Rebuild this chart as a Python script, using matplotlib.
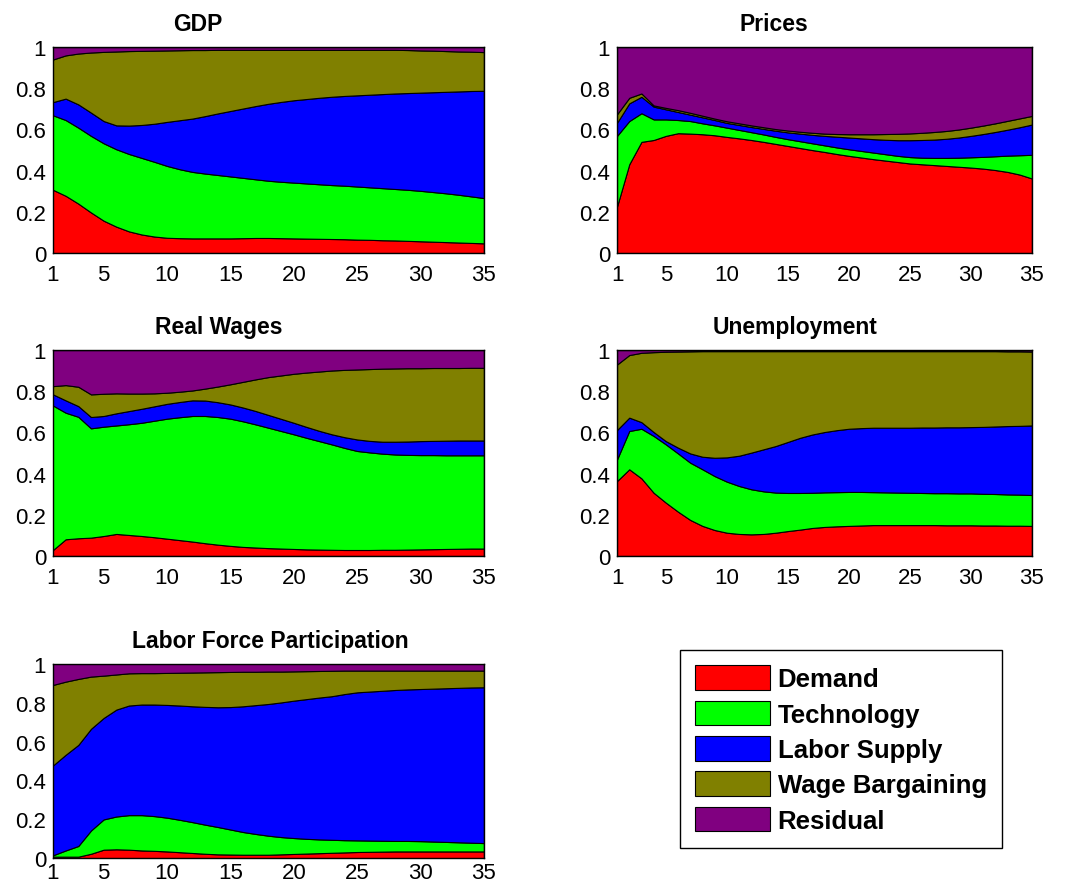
import numpy as np
import matplotlib
matplotlib.use("Agg")
import matplotlib.pyplot as plt
from matplotlib.patches import Patch

plt.rcParams['font.family'] = ['Liberation Sans', 'DejaVu Sans']

t = np.arange(1, 36)
labels = ['Demand', 'Technology', 'Labor Supply', 'Wage Bargaining', 'Residual']
colors = ['#ff0000', '#00ff00', '#0000ff', '#808000', '#800080']

# cumulative upper edge of each layer, residual fills to 1
gdp_demand = [0.307, 0.278, 0.240, 0.197, 0.157, 0.128, 0.105, 0.090, 0.080, 0.074,
              0.072, 0.071, 0.071, 0.071, 0.071, 0.072, 0.073, 0.073, 0.072, 0.071,
              0.070, 0.069, 0.068, 0.067, 0.065, 0.064, 0.062, 0.061, 0.059, 0.057,
              0.055, 0.053, 0.051, 0.049, 0.047]
gdp_tech = [0.669, 0.646, 0.609, 0.569, 0.533, 0.504, 0.481, 0.462, 0.443, 0.423,
            0.407, 0.394, 0.386, 0.379, 0.372, 0.365, 0.358, 0.351, 0.346, 0.342,
            0.338, 0.334, 0.330, 0.327, 0.323, 0.319, 0.315, 0.311, 0.307, 0.302,
            0.296, 0.290, 0.283, 0.275, 0.267]
gdp_labor = [0.733, 0.750, 0.722, 0.682, 0.641, 0.620, 0.619, 0.622, 0.628, 0.637,
             0.645, 0.653, 0.665, 0.678, 0.690, 0.702, 0.714, 0.725, 0.734, 0.742,
             0.748, 0.754, 0.759, 0.763, 0.766, 0.769, 0.772, 0.775, 0.777, 0.779,
             0.781, 0.783, 0.785, 0.787, 0.788]
gdp_wage = [0.940, 0.960, 0.969, 0.974, 0.977, 0.979, 0.981, 0.982, 0.983, 0.984,
            0.985, 0.986, 0.986, 0.987, 0.987, 0.987, 0.987, 0.987, 0.987, 0.987,
            0.987, 0.987, 0.987, 0.987, 0.987, 0.987, 0.987, 0.987, 0.986, 0.984,
            0.983, 0.981, 0.979, 0.978, 0.976]

prices_demand = [0.226, 0.431, 0.540, 0.549, 0.569, 0.582, 0.580, 0.577, 0.572, 0.564,
                 0.557, 0.549, 0.540, 0.530, 0.520, 0.510, 0.500, 0.491, 0.481, 0.472,
                 0.464, 0.456, 0.449, 0.442, 0.435, 0.431, 0.427, 0.423, 0.419, 0.415,
                 0.410, 0.403, 0.394, 0.381, 0.362]
prices_tech = [0.569, 0.641, 0.679, 0.649, 0.649, 0.646, 0.641, 0.630, 0.620, 0.609,
               0.598, 0.587, 0.576, 0.564, 0.553, 0.543, 0.533, 0.523, 0.513, 0.504,
               0.496, 0.488, 0.480, 0.472, 0.466, 0.463, 0.462, 0.462, 0.463, 0.465,
               0.467, 0.470, 0.473, 0.475, 0.477]
prices_labor = [0.633, 0.727, 0.759, 0.711, 0.698, 0.685, 0.672, 0.659, 0.646, 0.632,
                0.622, 0.612, 0.603, 0.594, 0.586, 0.580, 0.574, 0.569, 0.565, 0.561,
                0.557, 0.553, 0.550, 0.548, 0.548, 0.549, 0.551, 0.555, 0.561, 0.569,
                0.578, 0.588, 0.599, 0.611, 0.624]
prices_wage = [0.674, 0.754, 0.775, 0.717, 0.705, 0.694, 0.681, 0.667, 0.653, 0.640,
               0.630, 0.620, 0.611, 0.602, 0.595, 0.589, 0.584, 0.580, 0.578, 0.577,
               0.577, 0.577, 0.578, 0.579, 0.581, 0.584, 0.588, 0.593, 0.600, 0.609,
               0.619, 0.630, 0.642, 0.654, 0.666]

wages_demand = [0.029, 0.081, 0.086, 0.089, 0.097, 0.107, 0.102, 0.097, 0.091, 0.084,
                0.077, 0.070, 0.062, 0.055, 0.049, 0.044, 0.041, 0.038, 0.036, 0.034,
                0.032, 0.031, 0.030, 0.029, 0.029, 0.029, 0.030, 0.030, 0.031, 0.032,
                0.033, 0.034, 0.035, 0.036, 0.036]
wages_tech = [0.731, 0.696, 0.676, 0.620, 0.628, 0.634, 0.640, 0.647, 0.657, 0.667,
              0.674, 0.680, 0.680, 0.675, 0.667, 0.654, 0.639, 0.623, 0.607, 0.591,
              0.574, 0.558, 0.542, 0.525, 0.510, 0.503, 0.497, 0.493, 0.491, 0.490,
              0.490, 0.489, 0.489, 0.489, 0.489]
wages_labor = [0.785, 0.756, 0.728, 0.675, 0.680, 0.693, 0.704, 0.715, 0.727, 0.739,
               0.748, 0.756, 0.755, 0.747, 0.736, 0.721, 0.704, 0.685, 0.666, 0.647,
               0.627, 0.608, 0.591, 0.577, 0.566, 0.559, 0.555, 0.555, 0.556, 0.558,
               0.559, 0.560, 0.561, 0.561, 0.561]
wages_wage = [0.825, 0.830, 0.822, 0.785, 0.788, 0.790, 0.789, 0.789, 0.790, 0.793,
              0.798, 0.804, 0.813, 0.823, 0.834, 0.846, 0.858, 0.869, 0.877, 0.885,
              0.891, 0.896, 0.901, 0.904, 0.906, 0.908, 0.910, 0.911, 0.912, 0.912,
              0.913, 0.913, 0.913, 0.914, 0.914]

unemp_demand = [0.364, 0.421, 0.377, 0.307, 0.259, 0.215, 0.175, 0.146, 0.126, 0.113,
                0.107, 0.105, 0.107, 0.113, 0.121, 0.128, 0.136, 0.141, 0.144, 0.146,
                0.148, 0.150, 0.150, 0.150, 0.150, 0.150, 0.150, 0.149, 0.149, 0.149,
                0.148, 0.148, 0.147, 0.147, 0.146]
unemp_tech = [0.469, 0.607, 0.618, 0.583, 0.542, 0.498, 0.453, 0.421, 0.388, 0.361,
              0.340, 0.324, 0.314, 0.308, 0.306, 0.306, 0.307, 0.309, 0.310, 0.311,
              0.311, 0.310, 0.309, 0.308, 0.307, 0.306, 0.305, 0.305, 0.304, 0.304,
              0.302, 0.301, 0.299, 0.298, 0.296]
unemp_labor = [0.612, 0.672, 0.650, 0.602, 0.558, 0.526, 0.498, 0.482, 0.477, 0.479,
               0.487, 0.502, 0.518, 0.534, 0.554, 0.574, 0.590, 0.602, 0.611, 0.618,
               0.621, 0.623, 0.623, 0.623, 0.623, 0.624, 0.624, 0.625, 0.625, 0.626,
               0.627, 0.629, 0.631, 0.632, 0.634]
unemp_wage = [0.930, 0.976, 0.987, 0.990, 0.992, 0.993, 0.994, 0.995, 0.995, 0.995,
              0.995, 0.995, 0.995, 0.995, 0.995, 0.995, 0.995, 0.995, 0.995, 0.995,
              0.995, 0.995, 0.995, 0.995, 0.995, 0.995, 0.995, 0.995, 0.995, 0.995,
              0.995, 0.995, 0.994, 0.994, 0.993]

lfp_demand = [0.007, 0.007, 0.007, 0.022, 0.043, 0.045, 0.043, 0.039, 0.037, 0.034,
              0.030, 0.026, 0.022, 0.019, 0.018, 0.017, 0.017, 0.017, 0.019, 0.021,
              0.023, 0.025, 0.027, 0.029, 0.031, 0.032, 0.033, 0.034, 0.034, 0.034,
              0.034, 0.034, 0.034, 0.034, 0.034]
lfp_tech = [0.014, 0.039, 0.062, 0.142, 0.199, 0.214, 0.221, 0.221, 0.216, 0.208,
            0.197, 0.185, 0.172, 0.160, 0.147, 0.134, 0.124, 0.115, 0.108, 0.103,
            0.099, 0.096, 0.094, 0.092, 0.091, 0.090, 0.089, 0.088, 0.088, 0.087,
            0.085, 0.083, 0.081, 0.079, 0.077]
lfp_labor = [0.477, 0.532, 0.583, 0.666, 0.722, 0.765, 0.786, 0.791, 0.791, 0.789,
             0.786, 0.782, 0.779, 0.777, 0.778, 0.782, 0.788, 0.794, 0.802, 0.811,
             0.819, 0.827, 0.834, 0.845, 0.854, 0.858, 0.862, 0.866, 0.869, 0.871,
             0.873, 0.875, 0.877, 0.879, 0.880]
lfp_wage = [0.892, 0.909, 0.923, 0.935, 0.940, 0.946, 0.952, 0.953, 0.953, 0.954,
            0.955, 0.956, 0.957, 0.958, 0.959, 0.960, 0.960, 0.961, 0.961, 0.962,
            0.963, 0.964, 0.965, 0.966, 0.966, 0.966, 0.966, 0.966, 0.966, 0.966,
            0.966, 0.966, 0.966, 0.966, 0.966]

# title, cumulative layers, axes rect, title x (axes fraction), x tick pad
panels = [
    ('GDP', [gdp_demand, gdp_tech, gdp_labor, gdp_wage],
     [0.0494, 0.7162, 0.402, 0.230], 0.336, 8),
    ('Prices', [prices_demand, prices_tech, prices_labor, prices_wage],
     [0.5756, 0.7162, 0.387, 0.230], 0.378, 8),
    ('Real Wages', [wages_demand, wages_tech, wages_labor, wages_wage],
     [0.0494, 0.3777, 0.402, 0.230], 0.385, 8),
    ('Unemployment', [unemp_demand, unemp_tech, unemp_labor, unemp_wage],
     [0.5756, 0.3777, 0.387, 0.230], 0.429, 8),
    ('Labor Force Participation', [lfp_demand, lfp_tech, lfp_labor, lfp_wage],
     [0.0494, 0.0402, 0.402, 0.2168], 0.505, 3),
]

fig = plt.figure(figsize=(10.72, 8.95), dpi=100)

for title, cum, pos, tx, xpad in panels:
    ax = fig.add_axes(pos)
    edges = np.vstack([np.zeros(len(t)), np.array(cum), np.ones(len(t))])
    shares = np.diff(edges, axis=0)
    ax.stackplot(t, shares, colors=colors, edgecolor='black', linewidth=0.8)
    ax.set_xlim(1, 35)
    ax.set_ylim(0, 1)
    ax.set_xticks([1, 5, 10, 15, 20, 25, 30, 35])
    ax.set_yticks([0, 0.2, 0.4, 0.6, 0.8, 1])
    ax.set_yticklabels(['0', '0.2', '0.4', '0.6', '0.8', '1'])
    ax.tick_params(length=0, labelsize=16)
    ax.tick_params(axis='y', pad=5)
    ax.tick_params(axis='x', pad=xpad)
    for s in ax.spines.values():
        s.set_linewidth(1.0)
    ax.set_title(title, fontsize=16.5, fontweight='bold', x=tx, pad=12)

handles = [Patch(facecolor=c, edgecolor='black', linewidth=0.8) for c in colors]
leg = fig.legend(handles, labels, loc='center', bbox_to_anchor=(0.7845, 0.162),
                 prop={'weight': 'bold', 'size': 18.5},
                 handlelength=2.9, handleheight=1.1, labelspacing=0.36,
                 handletextpad=0.3, borderpad=0.6, borderaxespad=0,
                 fancybox=False, framealpha=1)
leg.get_frame().set_edgecolor('black')
leg.get_frame().set_linewidth(1.0)

fig.savefig('out.png', dpi=100, facecolor='white')
